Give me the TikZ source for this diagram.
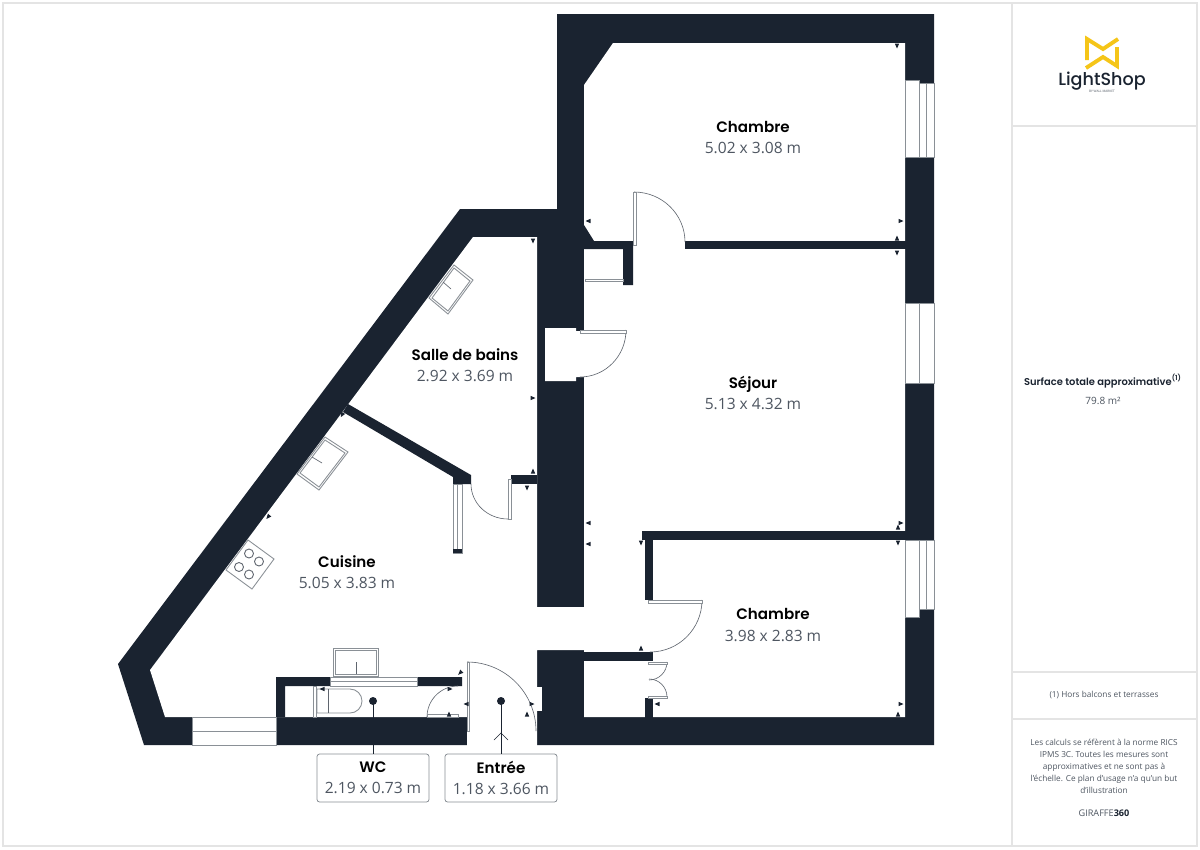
\documentclass[tikz,border=0pt]{standalone}
\usepackage{fontspec}
\setmainfont{Open Sans}
\newfontfamily\titlefont{Poppins}[BoldFont={Poppins SemiBold}]
\newfontfamily\logofont{Poppins Medium}
\definecolor{wallc}{HTML}{1A2330}
\definecolor{linec}{HTML}{8A9096}
\definecolor{framec}{HTML}{E4E4E4}
\definecolor{dimc}{HTML}{4E5661}
\definecolor{goldc}{HTML}{F5C518}
\newlength{\unit}
\setlength{\unit}{0.02cm}
\tikzset{
  wall/.style={fill=wallc,draw=none},
  room/.style={fill=white,draw=none},
  glass/.style={fill=white,draw=linec,line width=0.5pt},
  leaf/.style={draw=linec,line width=0.5pt,fill=white},
  swing/.style={draw=wallc!70,line width=0.35pt},
  frame/.style={draw=framec,line width=0.6pt},
  roomlabel/.style={align=center,inner sep=0pt},
  tagbox/.style={draw=linec,fill=white,rounded corners=1.5pt,line width=0.45pt,minimum width=112\unit,minimum height=48\unit,inner sep=0pt,align=center},
  pin/.style={draw=wallc,line width=0.35pt},
  tick/.style={fill=wallc,draw=none}
}
% titre et dimensions d'une piece
\newcommand{\roomtext}[2]{{\titlefont\fontsize{8.6}{10}\selectfont\bfseries #1}\\[0pt]{\fontsize{8.85}{10}\selectfont\color{dimc}#2}}
% petit triangle de cote : position puis angle
\newcommand{\cote}[3]{\fill[tick,rotate around={#3:(#1,#2)}] (#1-2.5,#2-2.2) -- (#1+2.5,#2) -- (#1-2.5,#2+2.2) -- cycle;}
\begin{document}
\begin{tikzpicture}[x=0.02cm,y=-0.02cm]
\useasboundingbox (0,0) rectangle (1200,849);
\fill[white] (0,0) rectangle (1200,849);

% cadre
\draw[frame] (3,3) rectangle (1197,846);
\draw[frame] (1012,3) -- (1012,846);
\draw[frame] (1012,126) -- (1197,126);
\draw[frame] (1012,672) -- (1197,672);
\draw[frame] (1012,719) -- (1197,719);

% murs exterieurs
\fill[wall] (557,14) -- (934,14) -- (934,745) -- (144,745) -- (118,664) -- (460,209) -- (557,209) -- cycle;
% interieur
\fill[room] (150,670) -- (473,237) -- (537,237) -- (537,607) -- (584,607) -- (584,85) -- (613,43) -- (905,43)
  -- (905,717) -- (584,717) -- (584,650) -- (537,650) -- (537,746) -- (467,746) -- (467,717) -- (165,717) -- cycle;
% placard dans le mur
\fill[room] (545,328) -- (576,328) -- (576,331) -- (584,331) -- (584,377) -- (576,377) -- (576,381) -- (545,381) -- cycle;
\fill[room] (537,687) rectangle (542,711);

% cloisons
\fill[wall] (584,225) -- (594,241) -- (633,241) -- (633,285) -- (623,285) -- (623,249) -- (584,249) -- cycle;
\fill[wall] (685,241) rectangle (906,249);
\fill[wall] (642,531) rectangle (906,540);
\fill[wall] (645,540) rectangle (653,600);
\fill[wall] (584,652) rectangle (653,661);
\fill[wall] (645,698) rectangle (653,718);
\fill[wall] (343,412) -- (348,404) -- (471,475) -- (471,484) -- (453,484) -- (453,477) -- cycle;
\fill[wall] (511,475) rectangle (537,484);
\fill[wall] (276,677) -- (462,677) -- (462,686) -- (285,686) -- (285,717) -- (276,717) -- cycle;

% fenetres
\draw[glass] (905,80) -- (919,80) -- (919,83) -- (934,83) -- (934,157) -- (905,157) -- cycle;
\draw[glass] (919,83) -- (919,157) (926.5,83) -- (926.5,157);
\draw[glass] (905,303) rectangle (934,383);
\draw[glass] (919.3,303) -- (919.3,383);
\draw[glass] (905,540) -- (934,540) -- (934,609) -- (919,609) -- (919,617) -- (905,617) -- cycle;
\draw[glass] (919,540) -- (919,609) (926.5,540) -- (926.5,609);
\draw[glass] (192,717) rectangle (276,745);
\draw[glass] (192,731) -- (276,731);
\draw[glass] (330,677) rectangle (417,686);
\draw[glass] (330,681.5) -- (417,681.5);
\draw[glass] (453,484) rectangle (462,553);
\draw[glass] (457.5,484) -- (457.5,553);
\fill[wall] (453,549) rectangle (462,553);
\draw[glass] (585,279) rectangle (623,281.5);

% portes
\draw[swing] (634,192) arc (-90:0:51 and 50);
\draw[leaf] (633,192) rectangle (636,245);
\draw[swing] (626,330) arc (0:90:46 and 47);
\draw[leaf] (580,330) rectangle (626,333);
\draw[swing] (702,600) arc (0:90:52);
\draw[leaf] (648,600) rectangle (702,603);
\draw[swing] (667,662) arc (0:90:18);
\draw[swing] (667,697) arc (0:-90:18);
\draw[leaf] (648,662) rectangle (667,664);
\draw[leaf] (648,696) rectangle (667,698);
\draw[swing] (471,484) arc (180:90:37 and 35);
\draw[leaf] (508,479) rectangle (511,519);
\draw[swing] (427,717) arc (180:270:31);
\draw[leaf] (427,714) rectangle (458,717);
\draw[swing] (467,662) arc (-90:0:69);
\draw[leaf] (467,662) rectangle (469,731);

% appareils
\draw[leaf] (333,648) rectangle (378,676);
\draw[leaf] (335,650) rectangle (376,674);
\draw[swing] (356,662) -- (356,674);
\draw[leaf] (317,689) -- (350,689) arc (-90:90:12) -- (317,713) -- cycle;
\draw[swing] (328,689) -- (328,713);
\draw[leaf] (313,686) rectangle (316,717);
\draw[leaf] (325,437) -- (348,452) -- (319,490) -- (297,474) -- cycle;
\draw[leaf] (325,440) -- (345,453) -- (319,487) -- (300,473) -- cycle;
\draw[swing] (312,457) -- (322,463);
\draw[leaf] (454,265) -- (473,280) -- (448,314) -- (429,298) -- cycle;
\draw[leaf] (454,268) -- (470,281) -- (448,311) -- (432,298) -- cycle;
\draw[swing] (443,282) -- (451,289);
\draw[leaf] (248,540) -- (274,559) -- (252,589) -- (226,570) -- cycle;
\foreach \hx/\hy in {249/553.5,259/561.5,239/567,249/574.5}
  \draw[swing,line width=0.5pt] (\hx,\hy) circle (4.5);

% cotes
\cote{897}{46}{-90}
\cote{901}{221}{0}
\cote{897}{238}{90}
\cote{897}{253}{-90}
\cote{901}{523}{0}
\cote{898}{527}{90}
\cote{898}{543}{-90}
\cote{901}{704}{0}
\cote{898}{714}{90}
\cote{588}{221}{180}
\cote{533}{241}{-90}
\cote{533}{398}{0}
\cote{588}{523}{180}
\cote{588}{544}{180}
\cote{641}{543}{-90}
\cote{641}{648}{90}
\cote{657}{704}{180}
\cote{533}{471}{90}
\cote{527}{488}{-90}
\cote{342}{415}{-120}
\cote{268}{517}{-130}
\cote{460}{673}{-135}
\cote{450}{689}{0}
\cote{449}{714}{90}
\cote{322}{689}{180}
\cote{466}{704}{180}
\cote{527}{714}{90}
\cote{532}{704}{0}

% noms des pieces
\node[roomlabel] (chambreA) at (753,137.5) {\roomtext{Chambre}{5.02 x 3.08 m}};
\node[roomlabel] (sejour) at (753,392.5) {\roomtext{Séjour}{5.13 x 4.32 m}};
\node[roomlabel] (bains) at (465,365) {\roomtext{Salle de bains}{2.92 x 3.69 m}};
\node[roomlabel] (cuisine) at (347,572) {\roomtext{Cuisine}{5.05 x 3.83 m}};
\node[roomlabel] (chambreB) at (773,625) {\roomtext{Chambre}{3.98 x 2.83 m}};

% etiquettes
\node[tagbox] (wc) at (373,778) {\roomtext{WC}{2.19 x 0.73 m}};
\node[tagbox] (entree) at (501,778) {\roomtext{Entrée}{1.18 x 3.66 m}};
\fill[wallc] (373,701) circle (4);
\fill[wallc] (501,701) circle (4);
\draw[pin] (373,701) -- (wc.north);
\draw[pin] (501,701) -- (entree.north);
\draw[pin] (494,740) -- (501,733) -- (508,740);

% logo
\draw[goldc,line width=2.2pt,miter limit=10] (1087,60) -- (1087,39) -- (1103,49) -- (1118,39);
\draw[goldc,line width=2.2pt,miter limit=10] (1117,47) -- (1117,66) -- (1103,57) -- (1086,68);
\node[inner sep=0pt,text=wallc] (lightshop) at (1102,81.5) {\logofont\fontsize{10}{12}\selectfont LightShop};
\node[inner sep=0pt,text=dimc] (wallmarket) at (1102,91) {\fontsize{1.8}{2}\selectfont BY WALL MARKET};

% colonne de droite
\node[inner sep=0pt,text=wallc] (surface) at (1103,381) {\titlefont\fontsize{5.65}{7}\selectfont\bfseries Surface totale approximative\textsuperscript{(1)}};
\node[inner sep=0pt,text=dimc] (surfaceval) at (1103,401) {\fontsize{5.7}{7}\selectfont 79.8 m²};
\node[inner sep=0pt,text=dimc] (note) at (1104,695) {\fontsize{4.7}{6}\selectfont (1) Hors balcons et terrasses};
\node[inner sep=0pt,text=dimc,align=center,font=\fontsize{4.7}{6.8}\selectfont] (calculs) at (1104,766) {Les calculs se réfèrent à la norme RICS\\IPMS 3C. Toutes les mesures sont\\approximatives et ne sont pas à\\l'échelle. Ce plan d'usage n'a qu'un but\\d'illustration};
\node[inner sep=0pt] (giraffe) at (1104,813) {\fontsize{5.2}{6}\selectfont\color{dimc}GIRAFFE{\bfseries\color{wallc}360}};
\end{tikzpicture}
\end{document}
